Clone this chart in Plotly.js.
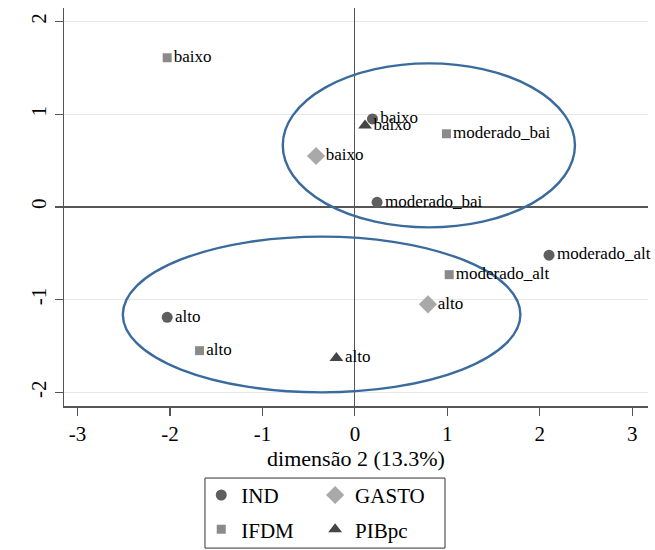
<!DOCTYPE html>
<html><head><meta charset="utf-8">
<script src="https://cdn.plot.ly/plotly-3.0.1.min.js"></script>
<style>body{margin:0;padding:0;background:#fff}#chart{width:655px;height:550px}</style>
</head><body><div id="chart"></div>
<script>
// ---- data ----
const indLabels = ['baixo', 'moderado_bai', 'moderado_alt', 'alto'];
const indX = [0.19, 0.24, 2.10, -2.03];
const indY = [0.95, 0.05, -0.52, -1.19];

const ifdmLabels = ['baixo', 'moderado_bai', 'moderado_alt', 'alto'];
const ifdmX = [-2.03, 0.99, 1.02, -1.68];
const ifdmY = [1.61, 0.79, -0.73, -1.55];

const gastoLabels = ['baixo', 'alto'];
const gastoX = [-0.42, 0.79];
const gastoY = [0.55, -1.05];

const pibLabels = ['baixo', 'alto'];
const pibX = [0.11, -0.20];
const pibY = [0.88, -1.63];

// ellipse extents in data units
const upperEllipse = [-0.78, 2.38, -0.22, 1.55];
const lowerEllipse = [-2.51, 1.79, -2.00, -0.32];

const xTicks = [-3, -2, -1, 0, 1, 2, 3];
const xTickText = ['-3', '-2', '-1', '0', '1', '2', '3'];
const yTicks = [-2, -1, 0, 1, 2];
const yTickText = ['-2', '-1', '0', '1', '2'];
const xTitle = 'dimensão 2 (13.3%)';

// ---- styling ----
const serif = 'Liberation Serif';
const labelFont = {family: serif, size: 17, color: '#000'};
const axisCol = '#555';

function series(name, xs, ys, labels, symbol, color, size, legend) {
  return {
    type: 'scatter', mode: 'markers+text', name: name,
    x: xs, y: ys, text: labels, textposition: 'middle right',
    textfont: labelFont, cliponaxis: false,
    marker: {symbol: symbol, color: color, size: size, line: {width: 0}},
    legend: legend, legendgroup: name, hoverinfo: 'skip'
  };
}

const traces = [
  series('IND', indX, indY, indLabels, 'circle', '#5f5f5f', 11, 'legend'),
  series('IFDM', ifdmX, ifdmY, ifdmLabels, 'square', '#8a8a8a', 9, 'legend'),
  series('GASTO', gastoX, gastoY, gastoLabels, 'diamond', '#a9a9a9', 14, 'legend2'),
  series('PIBpc', pibX, pibY, pibLabels, 'triangle-up', '#454545', 12, 'legend2')
];

function ellipse(e) {
  return {type: 'circle', xref: 'x', yref: 'y', x0: e[0], x1: e[1], y0: e[2], y1: e[3],
    line: {color: '#3a6b9c', width: 2.4}, layer: 'between'};
}

const legendCommon = {
  orientation: 'v', traceorder: 'grouped', tracegroupgap: 4,
  font: {family: serif, size: 21, color: '#000'},
  bgcolor: 'rgba(0,0,0,0)', borderwidth: 0,
  xanchor: 'left', yanchor: 'top', y: -0.173
};

const layout = {
  width: 655, height: 550,
  margin: {l: 64, r: 7, t: 8, b: 144, autoexpand: false},
  paper_bgcolor: '#fff', plot_bgcolor: '#fff',
  showlegend: true,
  font: {family: serif, color: '#000'},
  xaxis: {
    range: [-3.146, 3.17], tickmode: 'array', tickvals: xTicks, ticktext: xTickText,
    showgrid: false, zeroline: true, zerolinecolor: axisCol, zerolinewidth: 1.2,
    showline: true, linecolor: axisCol, linewidth: 1.5,
    ticks: 'outside', ticklen: 8, tickcolor: axisCol, tickwidth: 1.2,
    tickfont: {family: serif, size: 21, color: '#000'},
    title: {text: xTitle, font: {family: serif, size: 22, color: '#000'}, standoff: 0}
  },
  yaxis: {
    range: [-2.147, 2.147], tickmode: 'array', tickvals: yTicks, ticktext: yTickText, tickangle: -90,
    showgrid: true, gridcolor: '#e8e8e8', gridwidth: 1.5,
    zeroline: true, zerolinecolor: axisCol, zerolinewidth: 1.2,
    showline: true, linecolor: axisCol, linewidth: 1.5,
    ticks: 'outside', ticklen: 8, tickcolor: axisCol, tickwidth: 1.2,
    tickfont: {family: serif, size: 21, color: '#000'}
  },
  legend: Object.assign({x: 0.235}, legendCommon),
  legend2: Object.assign({x: 0.43}, legendCommon),
  shapes: [
    ellipse(upperEllipse),
    ellipse(lowerEllipse),
    {type: 'rect', xref: 'paper', yref: 'paper', x0: 0.2414, x1: 0.6524, y0: -0.181, y1: -0.357,
     line: {color: '#333', width: 1}, fillcolor: 'rgba(0,0,0,0)', layer: 'above'}
  ]
};

Plotly.newPlot('chart', traces, layout, {displayModeBar: false, staticPlot: true});
</script>
</body></html>
